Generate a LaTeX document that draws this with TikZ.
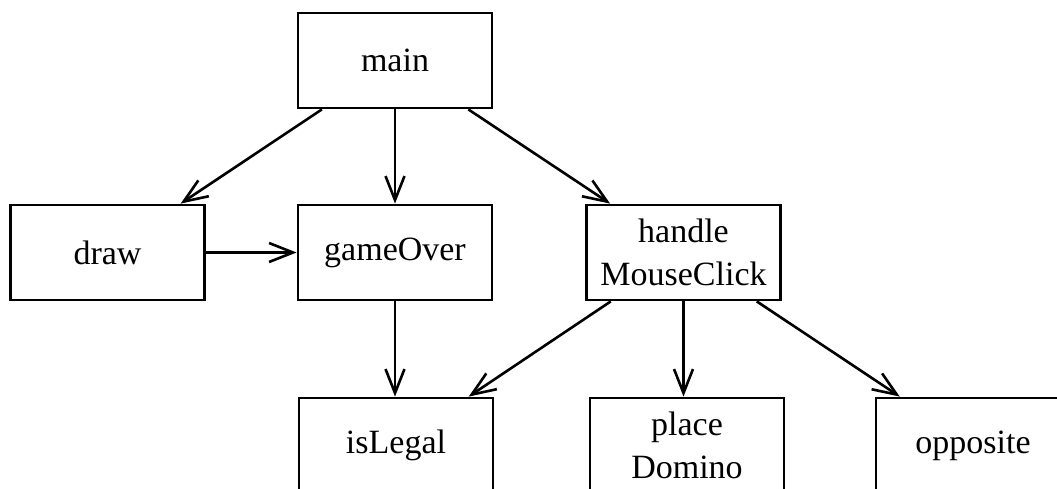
\documentclass[tikz,border=0pt]{standalone}
\usepackage{fontspec}
\setmainfont{Liberation Serif}
\usetikzlibrary{arrows.meta}
\tikzset{
  fbox/.style={draw, line width=2.8pt, minimum width=194pt, minimum height=95pt,
    inner sep=0pt, align=center, font={\fontsize{34}{43}\selectfont}},
  call/.style={line width=2.6pt, -{Straight Barb[length=24pt, width=19pt, line width=2.6pt]}}
}
\begin{document}
\begin{tikzpicture}[x=1pt, y=-1pt]
\useasboundingbox (0,0) rectangle (1057,489);
\node[fbox] (main) at (395,60.5) {main};
\node[fbox] (draw) at (107.5,252.5) {draw};
\node[fbox] (gameOver) at (395,252.5) {gameOver};
\node[fbox] (handle) at (683.5,252.5) {handle\\MouseClick};
\node[fbox] (isLegal) at (396,445.5) {isLegal};
\node[fbox] (place) at (687,445.5) {place\\Domino};
\node[fbox] (opposite) at (973,445.5) {opposite};
\draw[call] (main) -- (draw);
\draw[call] (main) -- (gameOver);
\draw[call] (main) -- (handle);
\draw[call] (draw) -- (gameOver);
\draw[call] (gameOver) -- (isLegal.north -| gameOver.south);
\draw[call] (handle) -- (isLegal);
\draw[call] (handle.south) -- (handle.south |- place.north);
\draw[call] (handle) -- (opposite);
\end{tikzpicture}
\end{document}
